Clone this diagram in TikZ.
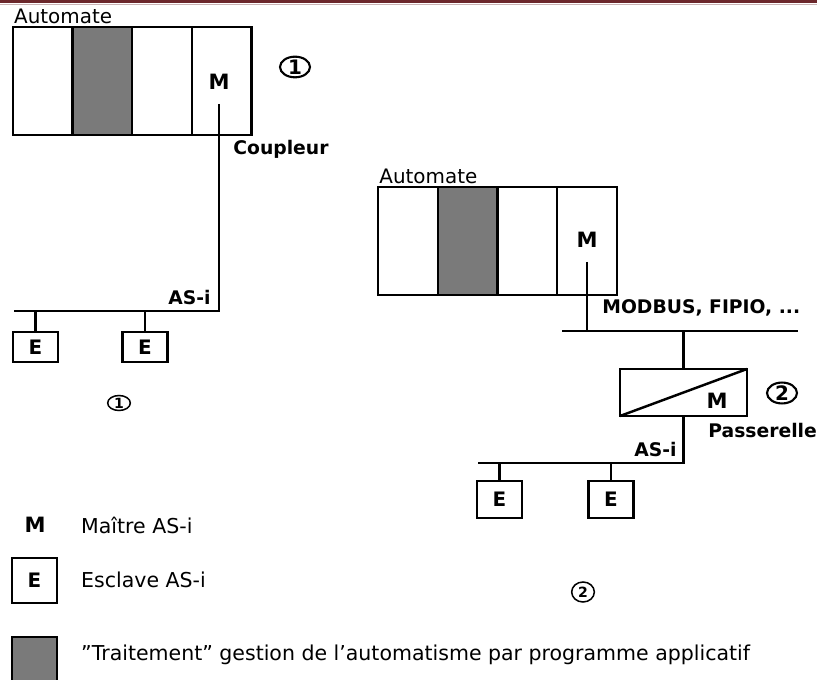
\documentclass[tikz,border=0pt]{standalone}
\usepackage{fontspec}
\setmainfont{DejaVu Sans}
\usetikzlibrary{positioning,shapes.geometric}
\definecolor{procgray}{RGB}{122,122,122}
\definecolor{barred}{RGB}{108,40,44}

\begin{document}
\begin{tikzpicture}[
    x=0.03cm, y=-0.03cm,
    line width=2.1pt,
    slot/.style={rectangle, draw, outer sep=0pt, inner sep=0pt, minimum width=1.79cm, minimum height=3.24cm},
    proc/.style={slot, fill=procgray},
    slave/.style={rectangle, draw, outer sep=0pt, minimum width=1.35cm, minimum height=0.9cm, font=\bfseries\fontsize{17}{17}\selectfont},
    gate/.style={rectangle, draw, outer sep=0pt, minimum width=3.81cm, minimum height=1.41cm},
    lbl/.style={font=\bfseries\fontsize{16}{16}\selectfont, inner sep=1pt},
    master/.style={font=\bfseries\fontsize{18}{18}\selectfont, inner sep=1pt},
    title/.style={font=\fontsize{17}{17}\selectfont, inner sep=0pt},
    legend/.style={font=\fontsize{17.5}{17.5}\selectfont, anchor=west, inner sep=0pt},
    num/.style={ellipse, draw, line width=1.8pt, inner sep=0pt, minimum width=0.9cm, minimum height=0.62cm, font=\bfseries\fontsize{17}{17}\selectfont},
    smallnum/.style={num, line width=1.3pt, minimum width=0.68cm, minimum height=0.45cm, font=\bfseries\fontsize{12}{12}\selectfont}
]
\useasboundingbox (0,0) rectangle (817,680);
% Top bar
\fill[barred] (0,0) rectangle (817,3.5);
\draw[line width=0.8pt, barred!35] (0,4.6) -- (817,4.6);

% Automate 1 with coupler
\node[slot] (s11) at (42.75,81) {};
\node[proc, right=0pt of s11] (s12) {};
\node[slot, right=0pt of s12] (s13) {};
\node[slot, right=0pt of s13] (s14) {};
\node[title, above right=2pt and 0pt of s11.north west] (aut1) {Automate};
\node[master] (m1) at (219,82) {M};
\node[num] (n1) at (295,67) {1};
\node[lbl, anchor=west] (coup1) at (231,149) {Coupleur};
% AS-i bus 1
\coordinate (bus1w) at (14,311);
\draw[shorten <=10pt] (m1.south) |- (bus1w);
\node[lbl, anchor=south east] (asi1) at (213,307) {AS-i};
\node[slave] (e11) at (35.5,347) {E};
\node[slave] (e12) at (145,347) {E};
\draw (e11.north) -- (e11.north |- bus1w);
\draw (e12.north) -- (e12.north |- bus1w);
\node[smallnum] (n1b) at (119,403) {1};

% Automate 2 with gateway
\node[slot] (s21) at (408,241) {};
\node[proc, right=0pt of s21] (s22) {};
\node[slot, right=0pt of s22] (s23) {};
\node[slot, right=0pt of s23] (s24) {};
\node[title, above right=2pt and 0pt of s21.north west] (aut2) {Automate};
\node[master] (m2) at (587,240) {M};
% Field bus
\coordinate (bus2w) at (562,331);
\coordinate (bus2e) at (798,331);
\draw (bus2w) -- (bus2e);
\draw[shorten <=10pt] (m2.south) -- (m2.south |- bus2w);
\node[lbl, anchor=west] (fld) at (600,308) {MODBUS, FIPIO, ...};
% Passerelle
\node[gate] (gw) at (683.5,392.5) {};
\draw (gw.south west) -- (gw.north east);
\node[master] (m3) at (717,401) {M};
\node[num] (n2) at (782,393) {2};
\node[lbl, anchor=west] (pass) at (706,431) {Passerelle};
\draw (gw.north) -- (gw.north |- bus2w);
% AS-i bus 2
\coordinate (bus3w) at (478,463);
\draw (gw.south) |- (bus3w);
\node[lbl, anchor=south east] (asi2) at (679,459) {AS-i};
\node[slave, minimum height=1.11cm] (e21) at (499.5,499.5) {E};
\node[slave, minimum height=1.11cm] (e22) at (611,499.5) {E};
\draw (e21.north) -- (e21.north |- bus3w);
\draw (e22.north) -- (e22.north |- bus3w);
\node[smallnum, minimum height=0.6cm] (n2b) at (583,592) {2};

% Legend
\node[master] (lm) at (35,525) {M};
\node[legend] (lmt) at (80,525) {Maître AS-i};
\node[slave, minimum height=1.35cm] (le) at (34.5,580.5) {E};
\node[legend] (let) at (80,580) {Esclave AS-i};
\node[rectangle, draw, fill=procgray, minimum width=1.35cm, minimum height=1.6cm, anchor=north] (lp) at (34.5,636) {};
\node[legend] (lpt) at (80,655) {"Traitement" gestion de l'automatisme par programme applicatif};
\end{tikzpicture}
\end{document}
